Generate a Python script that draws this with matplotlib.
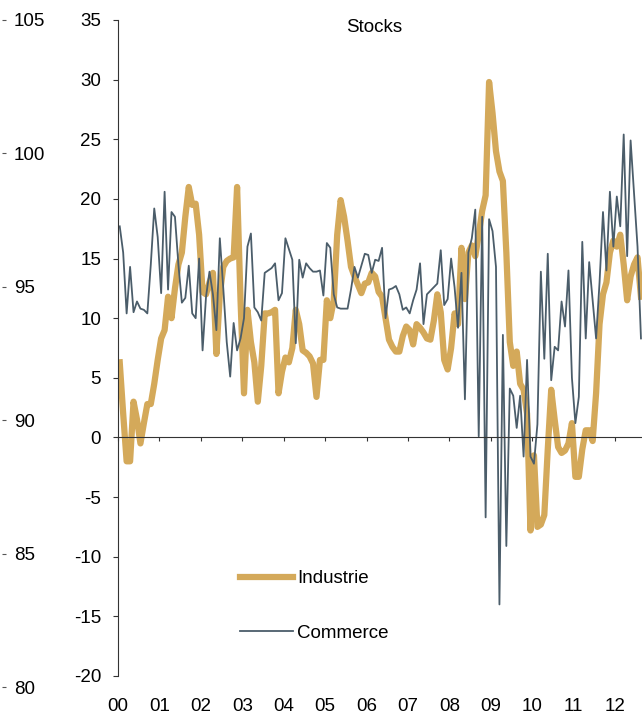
import numpy as np
import matplotlib
matplotlib.use('Agg')
import matplotlib.pyplot as plt

plt.rcParams['font.family'] = ['Liberation Sans', 'DejaVu Sans']
plt.rcParams['axes.unicode_minus'] = False

# monthly balances, Jan 2000 - Aug 2012
industrie = [
    6.3, 2.0, -2.0, -2.0, 3.0, 1.5, -0.5, 1.2, 2.8, 2.8, 4.5, 6.5,          # 2000
    8.3, 9.0, 11.8, 10.0, 12.5, 14.5, 15.5, 18.5, 21.0, 19.5, 19.6, 17.0,   # 2001
    12.2, 12.0, 13.0, 13.8, 7.0, 12.0, 14.3, 14.8, 15.0, 15.1, 21.0, 11.5,  # 2002
    3.7, 10.7, 8.0, 6.3, 3.0, 6.0, 10.4, 10.4, 10.5, 10.7, 3.7, 5.5,        # 2003
    6.7, 6.3, 7.5, 10.7, 9.5, 7.3, 7.1, 6.8, 6.2, 3.4, 6.5, 6.5,            # 2004
    11.5, 10.0, 11.5, 17.0, 19.9, 18.5, 16.5, 14.3, 13.5, 12.8, 12.1, 12.9, # 2005
    13.0, 13.8, 13.5, 12.2, 11.8, 10.0, 8.2, 7.6, 7.2, 7.2, 8.5, 9.3,       # 2006
    9.0, 7.8, 9.5, 9.2, 8.8, 8.3, 8.2, 9.8, 12.0, 10.5, 6.5, 5.7,           # 2007
    7.5, 10.4, 9.5, 15.9, 11.6, 15.5, 16.1, 15.2, 17.0, 19.0, 20.3, 29.8,   # 2008
    27.2, 24.0, 22.3, 21.5, 15.5, 8.0, 6.0, 7.2, 4.5, 4.0, 2.0, -7.8,       # 2009
    -1.5, -7.5, -7.3, -6.5, -1.0, 4.0, 1.5, -0.8, -1.3, -1.1, -0.5, 1.2,    # 2010
    -3.3, -3.3, -1.0, 0.6, 0.6, -0.3, 3.7, 9.5, 12.0, 13.0, 15.5, 16.5,     # 2011
    16.0, 17.0, 14.5, 11.5, 13.5, 14.5, 15.1, 11.8,                         # 2012
]

commerce = [
    17.7, 15.5, 10.4, 14.3, 10.5, 11.4, 10.8, 10.7, 10.4, 14.5, 19.2, 16.8,  # 2000
    12.1, 20.6, 12.4, 18.9, 18.5, 14.5, 11.3, 11.7, 14.4, 10.4, 10.0, 15.0,  # 2001
    7.3, 11.8, 13.9, 12.0, 9.0, 16.7, 12.5, 8.0, 5.1, 9.6, 7.3, 8.3,         # 2002
    10.0, 16.0, 17.1, 10.9, 10.5, 9.8, 13.8, 14.0, 14.2, 14.6, 11.5, 12.1,   # 2003
    16.7, 15.8, 14.9, 7.9, 14.9, 13.4, 14.6, 14.2, 13.9, 13.9, 14.0, 11.9,   # 2004
    16.3, 15.9, 12.0, 10.9, 10.8, 10.8, 10.8, 12.4, 14.3, 13.4, 14.4, 15.4,  # 2005
    15.3, 13.8, 14.9, 14.8, 15.9, 10.0, 12.4, 12.5, 12.7, 12.0, 10.7, 10.9,  # 2006
    10.4, 11.5, 12.4, 14.6, 9.5, 12.0, 12.3, 12.6, 12.9, 15.7, 11.1, 11.6,   # 2007
    15.0, 12.6, 9.2, 13.8, 3.2, 15.5, 16.7, 19.1, 0.1, 18.5, -6.7, 18.3,     # 2008
    17.3, 14.3, -14.0, 8.6, -9.1, 4.1, 3.5, 0.8, 3.5, -1.6, 6.5, -1.6,       # 2009
    -2.2, 1.1, 13.9, 6.6, 15.4, 4.8, 7.6, 7.3, 11.4, 9.3, 14.0, 5.0,         # 2010
    1.2, 3.4, 16.4, 8.3, 14.7, 11.5, 8.3, 13.0, 18.9, 14.0, 20.6, 16.0,      # 2011
    20.2, 17.7, 25.4, 15.2, 24.9, 20.5, 16.0, 8.3,                           # 2012
]

years = list(range(2000, 2013))
year_labels = ['%02d' % (y - 2000) for y in years]

fs = 13.5
gold = '#D4A95A'
slate = '#4B5D6A'

fig = plt.figure(figsize=(6.42, 7.2), dpi=100)
ax = fig.add_axes([118/642, 44/720, 524/642, 656/720])

x = 2000 + (np.arange(len(industrie)) + 0.5) / 12
ax.plot(x, industrie, color=gold, lw=4.5, solid_joinstyle='round', label='Industrie')
ax.plot(x, commerce, color=slate, lw=1.3, label='Commerce')

ax.set_xlim(2000, 2012.65)
ax.set_ylim(-20, 35)
ax.set_yticks(range(-20, 36, 5))

for s in ['top', 'right']:
    ax.spines[s].set_visible(False)
ax.spines['bottom'].set_position(('data', 0))
ax.spines['bottom'].set_color('#333333')
ax.spines['left'].set_color('#333333')

ax.set_xticks(years)
ax.tick_params(axis='x', direction='out', length=3, color='#333333', labelbottom=False)
ax.tick_params(axis='y', direction='out', length=3.6, pad=8.6, color='#333333', labelsize=fs)

# year labels along the bottom
sec = ax.secondary_xaxis(0)
sec.set_xticks(years, labels=year_labels)
sec.tick_params(length=0, pad=16, labelsize=fs)
sec.spines['bottom'].set_visible(False)

# outer index scale on the far left
ax2 = fig.add_axes([0, 33/720, 6/642, 667/720])
ax2.set_ylim(80, 105)
ax2.set_yticks(range(80, 106, 5))
ax2.yaxis.tick_right()
ax2.tick_params(axis='y', direction='in', length=2.9, pad=5.8, color='#555555', labelsize=fs)
ax2.set_xticks([])
for s in ax2.spines.values():
    s.set_visible(False)
ax2.patch.set_visible(False)

fig.text(374/642, 1 - 27/720, 'Stocks', ha='center', va='center', fontsize=fs)

ax.legend(loc='upper left', bbox_to_anchor=(240/642, 1 - 570/720),
          bbox_transform=fig.transFigure, frameon=False, fontsize=fs,
          handlelength=2.8, handletextpad=0.25, labelspacing=2.0,
          borderpad=0, borderaxespad=0)

fig.savefig('out.png', dpi=100)
